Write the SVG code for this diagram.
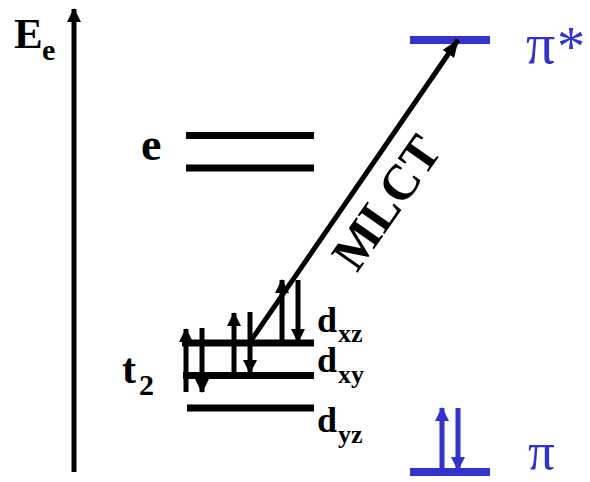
<svg xmlns="http://www.w3.org/2000/svg" width="590" height="482" viewBox="0 0 590 482">
<defs>
<style>
.lvl{stroke:#000;stroke-width:7;fill:none}
.blv{stroke:#3333cc;stroke-width:8;fill:none}
.shaft{stroke:#000;stroke-width:5;fill:none}
.bshaft{stroke:#3333cc;stroke-width:5;fill:none}
.lbl{font-family:"Liberation Serif","Times New Roman",serif;font-weight:bold;fill:#000}
.pi{font-family:"Liberation Serif","Times New Roman",serif;fill:#3333cc}
</style>
<marker id="ah" markerUnits="userSpaceOnUse" markerWidth="14" markerHeight="14" viewBox="0 0 14 14" refX="13" refY="7" orient="auto">
<path d="M0,0 L14,7 L0,14 Z" fill="#000"/>
</marker>
<marker id="ahb" markerUnits="userSpaceOnUse" markerWidth="14" markerHeight="14" viewBox="0 0 14 14" refX="13" refY="7" orient="auto">
<path d="M0,0 L14,7 L0,14 Z" fill="#3333cc"/>
</marker>
<marker id="ahl" markerUnits="userSpaceOnUse" markerWidth="18" markerHeight="14" viewBox="0 0 18 14" refX="17" refY="7" orient="auto">
<path d="M0,0 L18,7 L0,14 Z" fill="#000"/>
</marker>
</defs>

<g id="axis">
<line class="shaft" x1="74" y1="472" x2="74" y2="9" marker-end="url(#ah)"/>
<text class="lbl" x="14" y="48" font-size="43">E</text>
<text class="lbl" x="42" y="60" font-size="30">e</text>
</g>

<g id="e-level">
<line class="lvl" x1="186" y1="135.5" x2="314" y2="135.5"/>
<line class="lvl" x1="186" y1="168" x2="314" y2="168"/>
<text class="lbl" x="141" y="160" font-size="46">e</text>
</g>

<g id="t2-levels">
<line class="lvl" x1="182" y1="343" x2="314" y2="343"/>
<line class="lvl" x1="183" y1="375.5" x2="314" y2="375.5"/>
<line class="lvl" x1="187" y1="408" x2="314" y2="408"/>
<text class="lbl" x="122" y="383" font-size="42">t</text>
<text class="lbl" x="139" y="395" font-size="30">2</text>
<text class="lbl" x="317" y="332" font-size="36">d</text>
<text class="lbl" x="338" y="342" font-size="26">xz</text>
<text class="lbl" x="317" y="372" font-size="36">d</text>
<text class="lbl" x="338" y="383" font-size="26">xy</text>
<text class="lbl" x="317" y="432" font-size="36">d</text>
<text class="lbl" x="338" y="443" font-size="26">yz</text>
</g>

<g id="pistar-level">
<line class="blv" x1="410" y1="40" x2="490" y2="40"/>
<text class="pi" x="526" y="63" font-size="58">π</text>
<text class="pi" x="557" y="66" font-size="56">*</text>
</g>

<g id="pi-level">
<line class="blv" x1="410" y1="472" x2="490" y2="472"/>
<text class="pi" x="528" y="469" font-size="53">π</text>
</g>

<g id="connectors">
<line class="shaft" x1="186" y1="392" x2="186" y2="329" marker-end="url(#ah)"/>
<line class="shaft" x1="202" y1="328" x2="202" y2="392" marker-end="url(#ah)"/>
<line class="shaft" x1="234" y1="376" x2="234" y2="313" marker-end="url(#ah)"/>
<line class="shaft" x1="250" y1="312" x2="250" y2="373" marker-end="url(#ah)"/>
<line class="shaft" x1="282" y1="343" x2="282" y2="280" marker-end="url(#ah)"/>
<line class="shaft" x1="298" y1="280" x2="298" y2="342" marker-end="url(#ah)"/>
<line class="bshaft" x1="442" y1="472" x2="442" y2="408" marker-end="url(#ahb)"/>
<line class="bshaft" x1="458" y1="408" x2="458" y2="470" marker-end="url(#ahb)"/>
<line class="shaft" x1="250" y1="342" x2="458" y2="40" marker-end="url(#ahl)"/>
<text class="lbl" font-size="50" text-anchor="middle" transform="translate(400,212) rotate(-55)">MLCT</text>
</g>
</svg>
